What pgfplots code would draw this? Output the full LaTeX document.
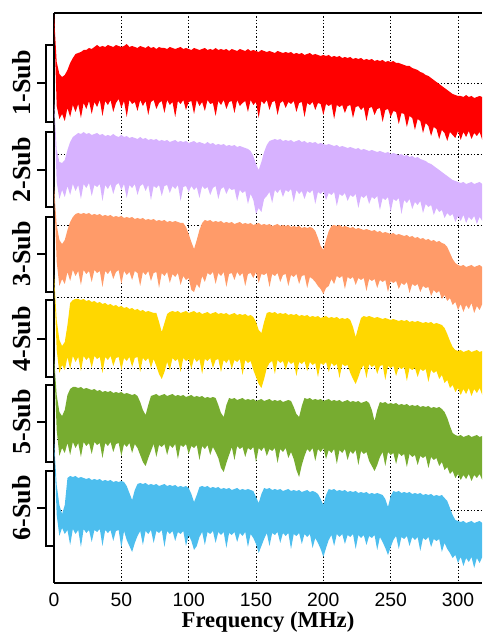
\documentclass[border=0pt]{standalone}
\usepackage{pgfplots}
\pgfplotsset{compat=1.18}
\usepackage{pgfplotstable}
\usepgfplotslibrary{fillbetween}
\usepackage{fontspec}
\setmainfont{Liberation Serif}
\newfontfamily\arial{Liberation Sans}
\definecolor{cA}{RGB}{255,0,0}
\definecolor{cB}{RGB}{215,178,255}
\definecolor{cC}{RGB}{255,155,105}
\definecolor{cD}{RGB}{255,215,0}
\definecolor{cE}{RGB}{119,172,48}
\definecolor{cF}{RGB}{77,190,238}
\newcommand{\brk}[4]{%
  \draw[line width=0.9pt] ([xshift=-1pt]axis cs:0,#1) -- ([xshift=-6pt]axis cs:0,#1) -- ([xshift=-6pt]axis cs:0,#2) -- ([xshift=-1pt]axis cs:0,#2);
  \draw[line width=0.9pt] ([xshift=-6pt]axis cs:0,#3) -- ([xshift=-13pt]axis cs:0,#3);
  \node[rotate=90, font=\bfseries\fontsize{19.5}{19.5}\selectfont, inner sep=0pt] at ([xshift=-24pt]axis cs:0,#3) {#4};
}
% values: x in MHz, t = upper edge, b = lower edge (in picture rows, top=13, bottom=583)
\pgfplotstableread{
x t b
0 15 18
2 62 106
4 74 119
6 77 114
8 75 121
10 70 108
12 63 117
14 58 105
16 54 112
18 53 104
20 52 118
22 50 103
24 50 109
26 48 101
28 49 114
30 47 102
32 45 107
34 47 100
36 46 116
38 47 101
40 45 105
42 46 100
44 47 112
46 45 103
48 46 99
50 47 108
52 46 101
54 44 117
56 47 100
58 46 104
60 47 102
62 48 111
64 46 100
66 47 106
68 48 101
70 46 115
72 48 102
74 47 100
76 49 109
78 47 103
80 48 101
82 48 113
84 49 100
86 47 105
88 48 102
90 49 117
92 48 101
94 47 104
96 49 100
98 48 110
100 49 102
102 50 101
104 48 114
106 49 100
108 50 106
110 49 102
112 48 111
114 50 100
116 49 104
118 50 103
120 48 116
122 50 101
124 49 105
126 50 100
128 49 109
130 51 102
132 49 101
134 50 113
136 51 100
138 49 106
140 50 103
142 51 101
144 49 112
146 51 100
148 50 105
150 51 102
152 52 118
154 50 101
156 51 104
158 52 100
160 51 110
162 52 102
164 53 101
166 51 115
168 52 103
170 53 101
172 52 108
174 53 102
176 52 104
178 54 101
180 53 112
182 54 103
184 53 102
186 55 117
188 54 103
190 53 105
192 55 102
194 54 110
196 55 103
198 56 104
200 55 115
202 56 104
204 55 106
206 57 104
208 56 119
210 57 105
212 56 107
214 58 105
216 57 113
218 58 106
220 57 105
222 59 118
224 58 107
226 59 106
228 58 110
230 60 107
232 59 121
234 60 108
236 59 107
238 61 115
240 60 109
242 61 108
244 60 122
246 62 110
248 61 109
250 62 117
252 61 111
254 63 112
256 63 124
258 64 113
260 65 114
262 66 127
264 66 116
266 68 118
268 69 130
270 70 119
272 72 121
274 73 133
276 75 123
278 76 126
280 78 136
282 80 127
284 82 129
286 84 139
288 86 130
290 88 133
292 90 141
294 92 132
296 94 135
298 95 138
300 96 131
302 96 140
304 97 132
306 95 137
308 97 131
310 96 139
312 98 133
314 97 136
316 96 132
318 97 140
}\tabA
\pgfplotstableread{
x t b
0 100 103
2 150 182
4 162 199
6 163 190
8 160 197
10 150 186
12 142 195
14 137 184
16 135 191
18 133 185
20 134 199
22 132 184
24 134 188
26 133 183
28 135 196
30 134 185
32 133 187
34 135 184
36 134 201
38 136 185
40 135 189
42 136 184
44 134 194
46 136 185
48 137 183
50 135 190
52 137 184
54 136 198
56 138 185
58 137 188
60 138 184
62 139 195
64 137 186
66 139 184
68 138 191
70 140 185
72 139 200
74 140 186
76 139 188
78 141 185
80 140 196
82 141 186
84 140 185
86 142 193
88 141 186
90 140 189
92 142 185
94 141 201
96 142 187
98 141 186
100 143 192
102 142 186
104 141 190
106 143 187
108 142 198
110 143 186
112 144 189
114 142 187
116 144 195
118 143 188
120 145 186
122 144 199
124 145 189
126 144 187
128 146 194
130 145 188
132 146 190
134 145 189
136 147 201
138 146 190
140 147 193
142 148 191
144 149 204
146 151 194
148 156 200
150 164 214
152 170 208
154 162 212
156 152 199
158 145 196
160 141 192
162 140 203
164 139 190
166 140 193
168 139 189
170 141 197
172 140 190
174 141 192
176 140 189
178 142 202
180 141 190
182 140 194
184 142 191
186 141 199
188 143 191
190 142 193
192 143 190
194 142 204
196 144 192
198 143 194
200 144 191
202 145 200
204 144 193
206 145 195
208 146 192
210 145 206
212 147 194
214 146 196
216 147 193
218 148 201
220 147 195
222 148 197
224 149 194
226 148 208
228 150 196
230 149 198
232 150 195
234 151 204
236 150 197
238 151 199
240 152 196
242 151 210
244 152 198
246 153 200
248 152 197
250 154 212
252 153 199
254 154 201
256 155 198
258 154 214
260 156 200
262 155 203
264 157 199
266 156 209
268 158 202
270 157 205
272 159 201
274 160 213
276 161 204
278 163 207
280 164 205
282 166 215
284 168 208
286 170 212
288 172 210
290 174 218
292 176 213
294 178 216
296 180 214
298 181 222
300 182 216
302 183 221
304 182 215
306 184 223
308 183 217
310 182 220
312 184 216
314 183 224
316 182 217
318 184 221
}\tabB
\pgfplotstableread{
x t b
0 187 190
2 225 262
4 240 286
6 244 279
8 240 284
10 230 272
12 222 281
14 217 270
16 214 276
18 213 271
20 214 285
22 213 270
24 214 274
26 213 271
28 215 282
30 214 270
32 215 273
34 214 271
36 216 287
38 215 271
40 216 274
42 215 270
44 217 279
46 216 272
48 217 270
50 216 284
52 218 271
54 217 275
56 218 272
58 217 280
60 219 271
62 218 273
64 219 286
66 218 272
68 220 275
70 219 271
72 220 281
74 219 273
76 221 272
78 220 288
80 221 273
82 220 276
84 222 272
86 221 283
88 222 274
90 221 277
92 222 273
94 223 285
96 223 276
98 227 280
100 234 278
102 242 290
104 249 292
106 240 284
108 230 288
110 223 276
112 220 282
114 221 273
116 220 275
118 222 272
120 221 284
122 222 273
124 221 276
126 223 272
128 222 287
130 223 274
132 222 273
134 224 280
136 223 272
138 222 276
140 224 273
142 223 286
144 224 274
146 223 273
148 225 278
150 224 272
152 223 283
154 225 274
156 224 275
158 225 273
160 224 287
162 226 274
164 225 276
166 224 273
168 226 282
170 225 275
172 226 274
174 225 286
176 227 275
178 226 277
180 227 274
182 226 284
184 228 276
186 227 275
188 228 288
190 227 277
192 228 279
194 231 282
196 238 286
198 246 289
200 250 294
202 240 288
204 231 286
206 226 279
208 225 284
210 226 276
212 225 278
214 227 276
216 226 289
218 227 277
220 228 279
222 227 277
224 229 285
226 228 278
228 229 280
230 230 278
232 229 291
234 230 279
236 231 281
238 230 279
240 232 288
242 231 280
244 233 282
246 232 280
248 233 292
250 234 281
252 233 283
254 235 281
256 234 289
258 235 283
260 236 285
262 235 282
264 237 293
266 236 284
268 238 286
270 237 284
272 239 292
274 238 286
276 240 288
278 239 287
280 241 296
282 240 290
284 242 293
286 241 291
288 243 299
290 244 295
292 247 301
294 253 298
296 259 305
298 263 302
300 265 310
302 266 304
304 265 312
306 267 305
308 266 309
310 265 303
312 267 313
314 266 306
316 265 310
318 267 304
}\tabC
\pgfplotstableread{
x t b
0 275 278
2 320 350
4 340 373
6 346 365
8 342 370
10 325 357
12 303 369
14 300 356
16 299 362
18 299 357
20 300 371
22 299 356
24 301 360
26 300 357
28 302 368
30 301 356
32 303 359
34 302 357
36 304 373
38 303 357
40 305 360
42 304 356
44 306 366
46 305 358
48 307 357
50 306 370
52 308 358
54 307 361
56 309 357
58 308 367
60 310 358
62 309 357
64 311 372
66 310 358
68 312 361
70 311 358
72 312 368
74 313 359
76 313 366
78 322 374
80 332 379
82 323 372
84 314 362
86 312 370
88 311 358
90 312 361
92 311 359
94 313 372
96 312 358
98 311 361
100 313 359
102 312 369
104 311 358
106 313 362
108 312 359
110 314 374
112 313 359
114 312 361
116 314 358
118 313 368
120 312 360
122 314 359
124 313 372
126 314 360
128 313 363
130 315 359
132 314 369
134 313 360
136 315 362
138 314 359
140 315 375
142 314 360
144 316 363
146 315 361
148 317 370
150 322 377
152 330 384
154 333 388
156 322 379
158 313 368
160 312 363
162 313 361
164 312 374
166 314 360
168 313 363
170 314 361
172 313 370
174 315 361
176 314 364
178 315 362
180 314 376
182 316 362
184 315 364
186 316 361
188 315 371
190 317 362
192 316 365
194 317 363
196 316 377
198 318 363
200 317 365
202 316 362
204 318 372
206 317 363
208 318 366
210 317 364
212 319 378
214 318 364
216 319 366
218 318 365
220 320 373
222 327 379
224 337 384
226 327 377
228 318 369
230 316 365
232 317 378
234 316 364
236 317 367
238 318 365
240 317 374
242 318 366
244 319 365
246 318 380
248 319 366
250 320 368
252 319 366
254 320 376
256 321 367
258 320 369
260 321 367
262 320 381
264 322 368
266 321 370
268 322 368
270 321 377
272 322 369
274 323 371
276 322 369
278 323 382
280 322 370
282 324 373
284 323 371
286 324 379
288 325 375
290 328 383
292 334 380
294 341 388
296 347 385
298 350 392
300 351 388
302 350 395
304 352 389
306 351 394
308 350 388
310 352 396
312 351 389
314 350 393
316 352 388
318 351 395
}\tabD
\pgfplotstableread{
x t b
0 357 360
2 395 430
4 412 456
6 416 448
8 410 453
10 395 443
12 389 455
14 387 442
16 387 448
18 388 443
20 387 457
22 389 442
24 388 446
26 389 443
28 390 454
30 389 442
32 391 445
34 390 443
36 392 458
38 391 443
40 392 446
42 391 442
44 393 452
46 392 444
48 393 443
50 392 456
52 394 444
54 393 447
56 394 443
58 395 453
60 394 444
62 396 448
64 402 455
66 410 462
68 415 466
70 405 458
72 396 451
74 395 444
76 394 457
78 396 445
80 395 447
82 394 444
84 396 455
86 395 445
88 394 448
90 396 444
92 395 459
94 396 445
96 395 447
98 397 444
100 396 454
102 395 446
104 397 448
106 396 445
108 397 460
110 396 446
112 398 449
114 397 445
116 398 455
118 397 447
120 398 452
122 405 458
124 413 468
126 417 472
128 405 463
130 398 455
132 399 447
134 398 460
136 400 446
138 399 449
140 398 447
142 400 457
144 399 448
146 400 450
148 399 447
150 401 462
152 400 448
154 399 451
156 401 447
158 400 456
160 399 449
162 401 451
164 400 448
166 401 463
168 400 449
170 402 452
172 401 448
174 400 458
176 401 452
178 407 459
180 414 470
182 417 477
184 406 465
186 398 456
188 399 449
190 398 452
192 400 448
194 399 461
196 400 449
198 399 452
200 401 448
202 400 459
204 399 450
206 401 453
208 400 449
210 401 464
212 400 450
214 402 453
216 401 449
218 400 460
220 402 451
222 401 454
224 402 450
226 401 465
228 403 451
230 402 454
232 401 452
234 403 461
236 410 466
238 421 471
240 410 465
242 402 457
244 403 452
246 402 466
248 404 452
250 403 455
252 404 453
254 403 464
256 405 453
258 404 456
260 405 454
262 404 467
264 406 454
266 405 457
268 406 455
270 405 465
272 407 456
274 406 458
276 407 456
278 406 468
280 408 457
282 407 460
284 408 458
286 407 466
288 409 462
290 412 470
292 418 467
294 426 474
296 433 471
298 435 478
300 436 474
302 435 480
304 437 475
306 436 479
308 435 474
310 437 481
312 436 475
314 435 478
316 437 474
318 436 480
}\tabE
\pgfplotstableread{
x t b
0 440 443
2 485 515
4 505 536
6 514 528
8 505 534
10 478 530
12 476 545
14 477 529
16 476 534
18 478 530
20 477 547
22 478 529
24 479 533
26 478 530
28 480 542
30 479 530
32 480 532
34 479 529
36 481 546
38 480 530
40 481 533
42 480 530
44 482 541
46 481 531
48 482 530
50 481 548
52 482 531
54 486 540
56 493 546
58 500 552
60 490 543
62 484 536
64 483 531
66 484 545
68 483 531
70 485 534
72 484 530
74 485 543
76 484 531
78 486 533
80 485 530
82 484 547
84 486 531
86 485 534
88 486 531
90 485 541
92 487 532
94 486 534
96 487 531
98 486 546
100 488 535
102 494 541
104 502 550
106 495 546
108 487 537
110 486 532
112 487 545
114 486 532
116 488 534
118 487 531
120 488 543
122 487 532
124 489 535
126 488 532
128 489 548
130 488 533
132 490 535
134 489 532
136 488 542
138 490 533
140 489 536
142 490 532
144 489 547
146 490 534
148 491 538
150 497 544
152 503 553
154 494 546
156 488 539
158 489 533
160 488 546
162 490 533
164 489 535
166 490 532
168 489 543
170 491 533
172 490 536
174 489 533
176 491 549
178 490 534
180 491 536
182 490 533
184 492 544
186 491 534
188 490 537
190 492 534
192 491 548
194 492 538
196 494 543
198 499 549
200 505 557
202 495 548
204 489 540
206 490 535
208 489 546
210 491 534
212 490 537
214 491 534
216 490 544
218 492 535
220 491 537
222 492 534
224 491 549
226 493 535
228 492 538
230 493 535
232 492 545
234 494 536
236 493 538
238 494 535
240 493 550
242 494 537
244 495 542
246 499 548
248 507 555
250 496 547
252 491 540
254 492 536
256 491 549
258 493 537
260 492 539
262 493 536
264 492 546
266 494 537
268 493 540
270 494 537
272 493 551
274 495 538
276 494 540
278 495 537
280 494 547
282 496 539
284 495 541
286 496 539
288 495 552
290 498 543
292 501 549
294 508 553
296 515 558
298 520 555
300 521 563
302 522 557
304 521 566
306 523 558
308 522 562
310 521 557
312 523 568
314 522 558
316 521 563
318 523 557
}\tabF
\begin{document}
\begin{tikzpicture}
\begin{axis}[
  set layers,
  scale only axis, width=321pt, height=427.5pt,
  xmin=0, xmax=317.8, ymin=13, ymax=583, y dir=reverse,
  axis x line=box, axis y line=left,
  axis line style={-, line width=0.9pt, black},
  xtick={0,50,...,300},
  ytick={83.25,154.5,225.75,297,368.25,439.5,510.75}, yticklabels={},
  major tick length=0pt,
  grid=major,
  grid style={black, line width=0.6pt, dash pattern=on 0.9pt off 1.6pt},
  /pgf/number format/assume math mode=true,
  xticklabel style={font=\arial\fontsize{14.5}{15}\selectfont, inner sep=0pt, yshift=-7pt},
  xlabel={\textbf{Frequency (MHz)}},
  xlabel style={font=\fontsize{17}{19}\selectfont, inner sep=0pt, yshift=-4pt},
  clip mode=individual,
]
\addplot[draw=none, name path=tA, forget plot] table[x=x,y=t]{\tabA};
\addplot[draw=none, name path=bA, forget plot] table[x=x,y=b]{\tabA};
\addplot[fill=cA, draw=none, forget plot] fill between[of=tA and bA];
\addplot[draw=none, name path=tB, forget plot] table[x=x,y=t]{\tabB};
\addplot[draw=none, name path=bB, forget plot] table[x=x,y=b]{\tabB};
\addplot[fill=cB, draw=none, forget plot] fill between[of=tB and bB];
\addplot[draw=none, name path=tC, forget plot] table[x=x,y=t]{\tabC};
\addplot[draw=none, name path=bC, forget plot] table[x=x,y=b]{\tabC};
\addplot[fill=cC, draw=none, forget plot] fill between[of=tC and bC];
\addplot[draw=none, name path=tD, forget plot] table[x=x,y=t]{\tabD};
\addplot[draw=none, name path=bD, forget plot] table[x=x,y=b]{\tabD};
\addplot[fill=cD, draw=none, forget plot] fill between[of=tD and bD];
\addplot[draw=none, name path=tE, forget plot] table[x=x,y=t]{\tabE};
\addplot[draw=none, name path=bE, forget plot] table[x=x,y=b]{\tabE};
\addplot[fill=cE, draw=none, forget plot] fill between[of=tE and bE];
\addplot[draw=none, name path=tF, forget plot] table[x=x,y=t]{\tabF};
\addplot[draw=none, name path=bF, forget plot] table[x=x,y=b]{\tabF};
\addplot[fill=cF, draw=none, forget plot] fill between[of=tF and bF];
% brackets and group labels
\brk{45}{122}{83}{1-Sub}
\brk{132}{207}{170}{2-Sub}
\brk{217}{292}{254}{3-Sub}
\brk{300}{377}{339}{4-Sub}
\brk{385}{462}{422}{5-Sub}
\brk{471}{546}{508}{6-Sub}
\end{axis}
\pgfresetboundingbox
\path[use as bounding box] (-40.5pt,-39pt) rectangle (321pt,437.25pt);
\end{tikzpicture}
\end{document}
